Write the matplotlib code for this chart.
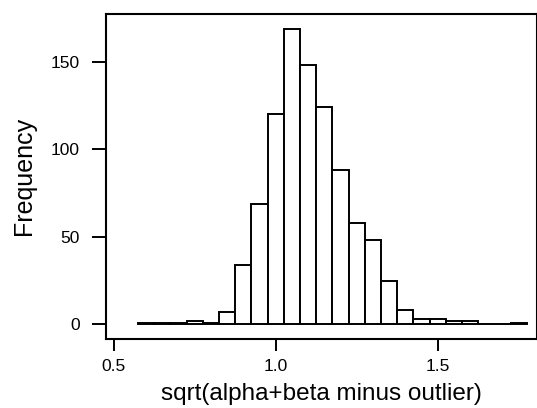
import numpy as np
import matplotlib
matplotlib.use("Agg")
import matplotlib.pyplot as plt

plt.rcParams['font.family'] = ['Liberation Sans', 'DejaVu Sans']

# Histogram bins (width 0.05) and counts per bin
bin_start = 0.575
bin_width = 0.05
counts = [1, 1, 1, 2, 1, 7, 34, 69, 120, 169, 148, 124, 88, 58, 48, 25, 8, 3, 3, 2, 2, 0, 0, 1]
x_ticks = [0.5, 1.0, 1.5]
x_tick_labels = ["0.5", "1.0", "1.5"]
y_ticks = [0, 50, 100, 150]

edges = bin_start + bin_width * np.arange(len(counts) + 1)

fig = plt.figure(figsize=(5.37, 4.08), dpi=100)
ax = fig.add_axes([0.1968, 0.1699, 0.8023, 0.7966])

ax.bar(edges[:-1], counts, width=bin_width, align='edge',
       facecolor='white', edgecolor='black', linewidth=1.4)

ax.set_xlim(0.475, 1.805)
ax.set_ylim(-8.2, 177.5)
ax.set_xticks(x_ticks)
ax.set_xticklabels(x_tick_labels)
ax.set_yticks(y_ticks)

for s in ax.spines.values():
    s.set_linewidth(1.5)
ax.tick_params(axis='y', length=10, width=1.4, labelsize=12.5, pad=8.5)
ax.tick_params(axis='x', length=8.4, width=1.4, labelsize=12.5, pad=6)

ax.set_xlabel("sqrt(alpha+beta minus outlier)", fontsize=17.5, labelpad=7)
ax.set_ylabel("Frequency", fontsize=18, labelpad=11)

fig.savefig("out.png", dpi=100)
